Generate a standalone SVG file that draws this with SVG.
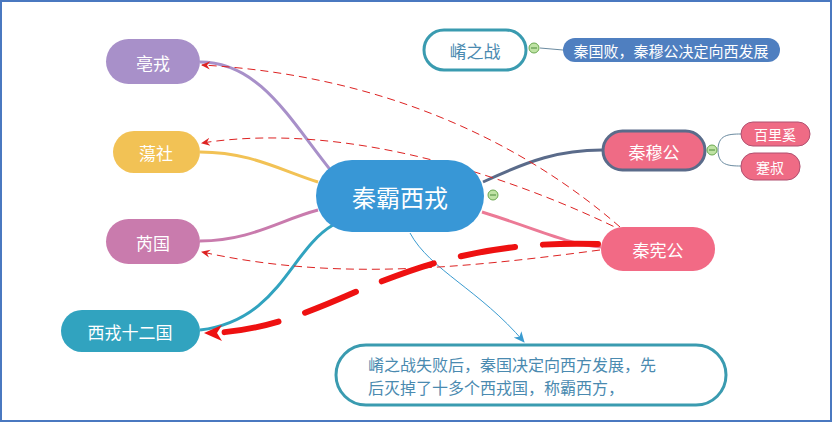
<svg xmlns="http://www.w3.org/2000/svg" width="832" height="422" viewBox="0 0 832 422">
<style>
text{font-family:"Noto Sans CJK SC","Liberation Sans",sans-serif;fill:#fff;text-anchor:middle;dominant-baseline:central}
.dash{fill:none;stroke:#d22;stroke-width:1;stroke-dasharray:8,5}
.br{fill:none;stroke-width:3}
.mc{fill:#bfe3a4;stroke:#6aa84f;stroke-width:1}
</style>
<defs>
<marker id="ra" markerWidth="10" markerHeight="10" refX="8" refY="5" orient="auto" markerUnits="userSpaceOnUse"><path d="M0,1 L9,5 L0,9 L3,5 Z" fill="#d22"/></marker>
<marker id="rb" markerWidth="20" markerHeight="20" refX="17" refY="10" orient="auto" markerUnits="userSpaceOnUse"><path d="M0,2 L18,10 L0,18 L5,10 Z" fill="#e11"/></marker>
<marker id="ba" markerWidth="12" markerHeight="12" refX="10" refY="6" orient="auto" markerUnits="userSpaceOnUse"><path d="M0,1 L11,6 L0,11 L3,6 Z" fill="#3a9bd0"/></marker>
</defs>
<rect x="1" y="1" width="830" height="420" fill="#fff" stroke="#4a78c0" stroke-width="2"/>
<g id="connectors">
<path class="br" stroke="#a890c9" d="M200,62 C260,62 290,120 332,172"/>
<path class="br" stroke="#f2c255" d="M200,152 C250,152 280,170 318,182"/>
<path class="br" stroke="#c97bad" d="M200,241 C250,241 280,220 318,210"/>
<path class="br" stroke="#31a3bf" d="M200,330 C280,320 290,250 333,225"/>
<path class="br" stroke="#5a6b8a" d="M483,182 C530,160 560,150 602,150"/>
<path class="br" stroke="#ec7a96" d="M482,212 C540,230 570,245 601,247"/>
<path fill="none" stroke="#6a8aa0" stroke-width="1" d="M718,150 C718,135 728,134 741,134 M718,150 C718,165 728,166 741,166"/>
<path fill="none" stroke="#6a8aa0" stroke-width="1" d="M540,48 L563,50"/>
<path fill="none" stroke="#3a9bd0" stroke-width="1" d="M410,233 C430,270 480,290 524,342" marker-end="url(#ba)"/>
<path class="dash" d="M620,227 C520,140 380,75 202,65" marker-end="url(#ra)"/>
<path class="dash" d="M625,232 C520,180 350,120 202,143" marker-end="url(#ra)"/>
<path class="dash" d="M600,250 C450,270 330,280 202,252" marker-end="url(#ra)"/>
<path fill="none" stroke="#e11" stroke-width="6" stroke-linecap="round" stroke-dasharray="55,28" d="M598,244 C480,240 410,270 360,290 C310,312 260,333 205,333" marker-end="url(#rb)"/>
</g>
<g id="n-center"><rect x="316" y="160" width="168" height="72" rx="36" fill="#3897d6"/><text x="400" y="196" font-size="24">秦霸西戎</text></g>
<g id="n-bo"><rect x="106" y="39" width="94" height="45" rx="22.5" fill="#a890c9"/><text x="153" y="62" font-size="17">亳戎</text></g>
<g id="n-dang"><rect x="113" y="131" width="87" height="42" rx="21" fill="#f2c255"/><text x="156" y="152" font-size="17">蕩社</text></g>
<g id="n-rui"><rect x="106" y="219" width="94" height="45" rx="22.5" fill="#c97bad"/><text x="153" y="242" font-size="17">芮国</text></g>
<g id="n-xirong"><rect x="61" y="310" width="139" height="42" rx="21" fill="#31a3bf"/><text x="130" y="331" font-size="17">西戎十二国</text></g>
<g id="n-yao"><rect x="424" y="30" width="102" height="40" rx="20" fill="#fff" stroke="#3a9bb0" stroke-width="3"/><text x="475" y="50" font-size="17" style="fill:#4a8ab0">崤之战</text></g>
<g id="n-bai"><rect x="563" y="38" width="217" height="24" rx="12" fill="#4f7fc0"/><text x="671" y="50" font-size="15">秦国败，秦穆公决定向西发展</text></g>
<g id="n-mu"><rect x="603" y="131" width="102" height="39" rx="19.5" fill="#ef6b85" stroke="#5a6b8a" stroke-width="3"/><text x="654" y="151" font-size="17">秦穆公</text></g>
<g id="n-bl"><rect x="741" y="122" width="69" height="24" rx="12" fill="#ef6b85" stroke="#b05070"/><text x="775" y="134" font-size="14">百里奚</text></g>
<g id="n-js"><rect x="741" y="153" width="59" height="27" rx="13" fill="#ef6b85" stroke="#b05070"/><text x="770" y="167" font-size="14">蹇叔</text></g>
<g id="n-xian"><rect x="601" y="227" width="114" height="44" rx="22" fill="#f26a85"/><text x="658" y="249" font-size="17">秦宪公</text></g>
<g id="n-note"><rect x="336" y="345" width="390" height="60" rx="30" fill="#fff" stroke="#3a9bb0" stroke-width="3"/>
<text x="368" y="364" font-size="16" style="fill:#4a8ab0;text-anchor:start">崤之战失败后，秦国决定向西方发展，先</text>
<text x="368" y="387" font-size="16" style="fill:#4a8ab0;text-anchor:start">后灭掉了十多个西戎国，称霸西方，</text></g>
<circle class="mc" cx="534" cy="48" r="5"/><line x1="531" y1="48" x2="537" y2="48" stroke="#4a8a3a"/>
<circle class="mc" cx="712" cy="150" r="5"/><line x1="709" y1="150" x2="715" y2="150" stroke="#4a8a3a"/>
<circle class="mc" cx="493" cy="195" r="5"/><line x1="490" y1="195" x2="496" y2="195" stroke="#4a8a3a"/>
</svg>
